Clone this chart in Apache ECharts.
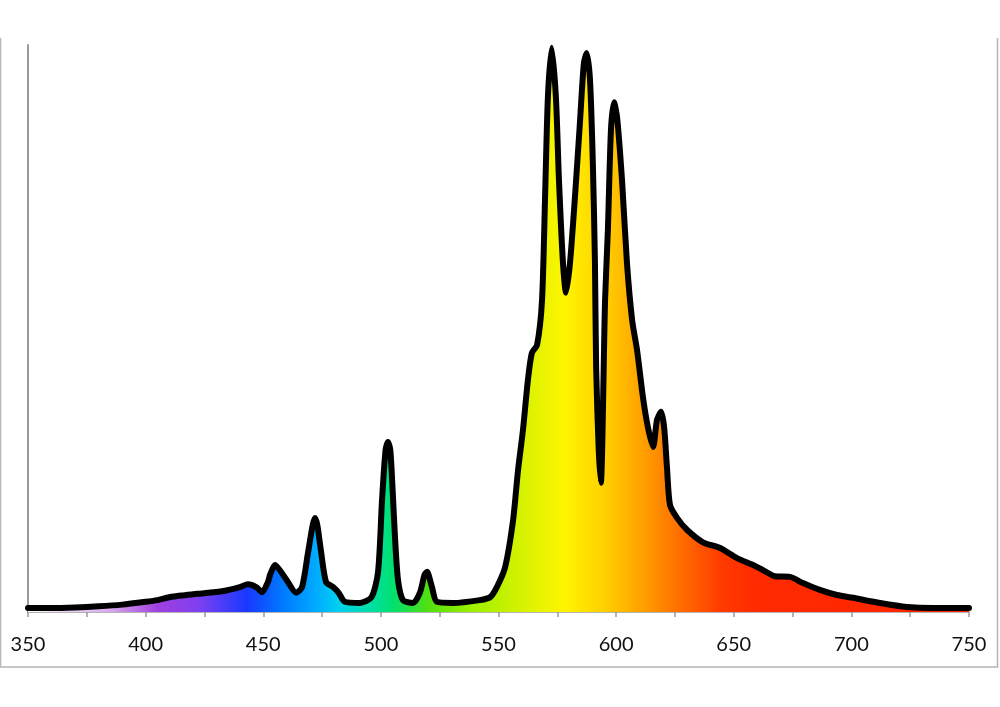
<!DOCTYPE html>
<html>
<head>
<meta charset="utf-8">
<script src="https://cdn.jsdelivr.net/npm/echarts@6/dist/echarts.min.js"></script>
<style>html,body{margin:0;padding:0;background:#fff}#c{width:1000px;height:707px}</style>
</head>
<body>
<div id="c"></div>
<script>
// Wavelength (nm)
var wavelengths = [350,360,370,380,390,400,405,410,415,422,433,440,443.5,447,449.5,452,453,455,457,460,464,466.5,469,471,472,473,474.5,476.7,479.7,482,484.7,491,496,498.8,500.5,502,503,504,505,506,507.3,509.4,513.7,516.6,518.5,519.6,521.7,523.8,530.6,542,546.4,549.3,552.8,556.2,558.3,560.4,562.5,564.2,566.4,568.5,569.8,571,572.6,574.4,575.7,577.4,578.7,580.4,582.5,584.6,586.3,587.5,588.9,590.1,591,591.5,592.6,593.5,595.3,596.5,597.8,599.1,600.4,602.5,604.6,606.8,608.9,611.4,613.5,615.7,617.4,619.1,620.4,621.6,622.9,625.9,630.1,636.9,644.2,651.4,658.2,662.4,667.5,673.9,679.4,686.6,693.9,700.7,712.2,723.6,735,750];
// Relative intensity
var intensity = [0.7,0.7,0.8,1.0,1.3,1.8,2.1,2.6,2.9,3.2,3.7,4.4,4.9,4.4,3.5,5.3,6.7,8.3,7.4,5.6,3.4,4.4,10.4,15.3,16.6,15.3,10.9,5.3,4.4,3.4,1.8,1.6,2.6,7.1,19.8,28.6,30.0,28.6,21.5,13.2,5.6,2.1,1.6,3.4,6.5,7.1,4.4,1.8,1.6,2.1,2.6,4.4,7.9,16.2,25.0,32.1,40.9,45.7,47.1,55.0,73.2,90.8,99.5,90.8,76.2,61.6,56.3,61.6,73.2,86.2,96.8,98.6,93.8,79.2,61.6,43.2,28.6,22.8,55.0,67.4,85.0,89.9,87.3,76.2,61.6,51.5,46.2,37.9,32.6,29.1,33.9,35.3,32.6,25.6,18.9,16.6,14.5,12.3,11.3,9.5,8.3,7.4,6.3,6.2,5.1,3.9,3.0,2.5,1.6,0.9,0.7,0.7];
var xTicks = [350,400,450,500,550,600,650,700,750];

var data = wavelengths.map(function(w,i){return [w,intensity[i]];});
var stops = [
  [350,'#ffffff'],[385,'#d8a8ee'],[405,'#a040e0'],[422,'#8040f0'],[443,'#1838ff'],[458,'#0078ff'],
  [472,'#00aaff'],[482,'#00d0f0'],[495,'#00e0a8'],[505,'#00e070'],[520,'#50e010'],[537,'#98f000'],
  [556,'#ccf200'],[578,'#fff400'],[595,'#ffd000'],[610,'#ffa400'],[625,'#ff7400'],[645,'#ff3a00'],
  [660,'#ff2a00'],[750,'#ff2400']
].map(function(s){return {offset:(s[0]-350)/400,color:s[1]};});

var chart = echarts.init(document.getElementById('c'), null, {renderer:'canvas'});
chart.setOption({
  backgroundColor:'#fff',
  animation:false,
  grid:{left:28,right:31,top:45,bottom:95},
  xAxis:{type:'value',min:350,max:750,interval:50,
    axisLine:{show:true,onZero:false,lineStyle:{color:'#9a9a9a',width:1.5}},
    axisTick:{show:true,length:5,lineStyle:{color:'#9a9a9a',width:1.5}},
    minorTick:{show:true,splitNumber:2,length:5,lineStyle:{color:'#9a9a9a',width:1.5}},
    splitLine:{show:false},
    axisLabel:{margin:23,fontSize:20,color:'#111',fontFamily:'Lato',
      formatter:function(v){return xTicks.indexOf(v)>=0?String(v):'';}}
  },
  yAxis:{type:'value',min:0,max:100,
    axisLine:{show:true,lineStyle:{color:'#9a9a9a',width:2}},
    axisTick:{show:false},axisLabel:{show:false},splitLine:{show:false}},
  series:[{type:'line',data:data,symbol:'none',smooth:0.25,
    lineStyle:{color:'#000',width:6,join:'round',cap:'round'},
    areaStyle:{opacity:1,color:new echarts.graphic.LinearGradient(0,0,1,0,stops)}
  }],
  graphic:[
    {type:'polyline',shape:{points:[[0.5,38],[0.5,667],[997.5,667],[997.5,38]]},style:{stroke:'#b5b5b5',lineWidth:1.5,fill:null}}
  ]
});
</script>
</body>
</html>
